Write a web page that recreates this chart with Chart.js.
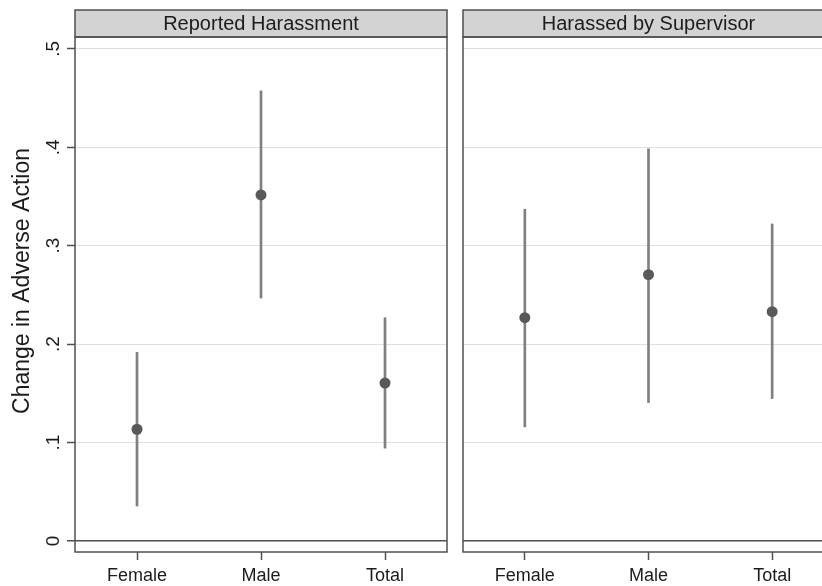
<!DOCTYPE html>
<html>
<head>
<meta charset="utf-8">
<script src="https://cdn.jsdelivr.net/npm/chart.js@4/dist/chart.umd.min.js"></script>
<style>
  html, body { margin: 0; padding: 0; background: #fff; overflow: hidden; width: 822px; height: 586px; }
  #wrap { position: relative; width: 822px; height: 586px; overflow: hidden; }
  canvas { position: absolute; top: 0; }
  #left { left: 0; }
  #right { left: 450px; }
</style>
</head>
<body>
<div id="wrap">
  <canvas id="left" width="460" height="586"></canvas>
  <canvas id="right" width="400" height="586"></canvas>
</div>
<script>
// Groups on the x axis
const categories = ['Female', 'Male', 'Total'];
const panelTitles = ['Reported Harassment', 'Harassed by Supervisor'];
const yTitle = 'Change in Adverse Action';

// Point estimates and confidence bounds, panel 1
const reportedEst  = [0.1135, 0.3516, 0.1605];
const reportedLow  = [0.0355, 0.2468, 0.0943];
const reportedHigh = [0.1916, 0.4573, 0.2268];

// Point estimates and confidence bounds, panel 2
const supervisorEst  = [0.2268, 0.2705, 0.2329];
const supervisorLow  = [0.1159, 0.1406, 0.1447];
const supervisorHigh = [0.3370, 0.3984, 0.3221];

// Y axis ticks
const yTickValues = [0, 0.1, 0.2, 0.3, 0.4, 0.5];
const yTickLabels = ['0', '.1', '.2', '.3', '.4', '.5'];

const FONT = "'Liberation Sans', Arial, sans-serif";
const DARK = '#505050';
const TEXT = '#1c1c1c';

// Panel frame, grey title strip, and (left panel) rotated y tick labels + y title
function panelPlugin(title, withYLabels) {
  return {
    id: 'panelDecor',
    afterDraw(chart) {
      const { ctx, chartArea: a } = chart;
      ctx.save();
      // title strip
      ctx.fillStyle = '#d3d3d3';
      ctx.fillRect(a.left, 10, a.right - a.left, a.top - 10);
      ctx.strokeStyle = DARK;
      ctx.lineWidth = 1.5;
      ctx.strokeRect(a.left, 10, a.right - a.left, a.top - 10);
      ctx.fillStyle = TEXT;
      ctx.font = '20px ' + FONT;
      ctx.textAlign = 'center';
      ctx.textBaseline = 'middle';
      ctx.fillText(title, (a.left + a.right) / 2, (10 + a.top) / 2 + 1);
      // plot frame
      ctx.strokeRect(a.left, a.top, a.right - a.left, a.bottom - a.top);
      if (withYLabels) {
        const y = chart.scales.y;
        ctx.font = '19px ' + FONT;
        yTickValues.forEach((v, i) => {
          const py = y.getPixelForValue(v);
          ctx.save();
          ctx.translate(54, py);
          ctx.rotate(-Math.PI / 2);
          ctx.textAlign = 'center';
          ctx.textBaseline = 'middle';
          ctx.fillText(yTickLabels[i], 0, 0);
          ctx.restore();
        });
        ctx.save();
        ctx.font = '23px ' + FONT;
        ctx.translate(23, (10 + a.bottom) / 2);
        ctx.rotate(-Math.PI / 2);
        ctx.textAlign = 'center';
        ctx.textBaseline = 'middle';
        ctx.fillText(yTitle, 0, 0);
        ctx.restore();
      }
      ctx.restore();
    }
  };
}

function makePanel(canvasId, title, est, low, high, yWidth, padRight, withYLabels) {
  return new Chart(document.getElementById(canvasId), {
    type: 'bar',
    data: {
      labels: categories,
      datasets: [
        {
          type: 'line',
          data: est,
          showLine: false,
          pointRadius: 5.5,
          pointHoverRadius: 5.5,
          pointBackgroundColor: '#595959',
          pointBorderColor: '#595959',
          pointBorderWidth: 0,
          order: 0
        },
        {
          type: 'bar',
          data: low.map((l, i) => [l, high[i]]),
          backgroundColor: '#808080',
          borderWidth: 0,
          barThickness: 2,
          order: 1
        }
      ]
    },
    options: {
      responsive: false,
      animation: false,
      events: [],
      layout: { padding: { top: 37, right: padRight, bottom: 0, left: 0 } },
      plugins: { legend: { display: false }, tooltip: { enabled: false } },
      scales: {
        x: {
          type: 'category',
          offset: true,
          border: { display: false },
          grid: {
            offset: false,
            drawOnChartArea: false,
            drawTicks: true,
            tickLength: 8,
            tickColor: DARK,
            tickWidth: 1.5
          },
          ticks: {
            color: TEXT,
            font: { family: FONT, size: 18 },
            padding: 5,
            maxRotation: 0,
            minRotation: 0
          },
          afterFit(s) { s.height = 586 - 552; }
        },
        y: {
          type: 'linear',
          min: -0.0112,
          max: 0.512,
          border: { display: false },
          afterBuildTicks(s) { s.ticks = yTickValues.map(v => ({ value: v })); },
          grid: {
            color: ctx => (ctx.tick && ctx.tick.value === 0 ? DARK : '#e0e0e0'),
            lineWidth: ctx => (ctx.tick && ctx.tick.value === 0 ? 1.5 : 1),
            drawTicks: withYLabels,
            tickLength: 8,
            tickColor: DARK,
            tickWidth: 1.5
          },
          ticks: { display: false },
          afterFit(s) { s.width = yWidth; }
        }
      }
    },
    plugins: [panelPlugin(title, withYLabels)]
  });
}

makePanel('left', panelTitles[0], reportedEst, reportedLow, reportedHigh, 75, 13, true);
makePanel('right', panelTitles[1], supervisorEst, supervisorLow, supervisorHigh, 13, 16, false);
</script>
</body>
</html>
